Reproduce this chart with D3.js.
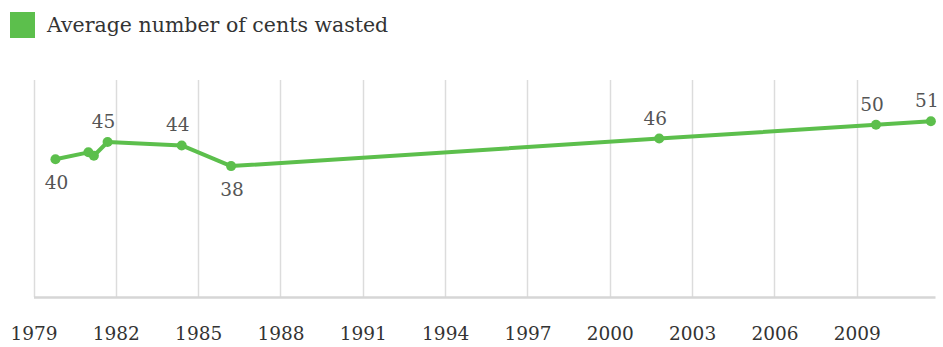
<!DOCTYPE html>
<html>
<head>
<meta charset="utf-8">
<script src="https://cdn.jsdelivr.net/npm/d3@7"></script>
<style>
  body { margin: 0; background: #fff; }
  svg { display: block; }
</style>
</head>
<body>
<div id="chart"></div>
<script>
// survey dates (fractional years) and average cents wasted
const years = [1979.8, 1981.0, 1981.2, 1981.7, 1984.4, 1986.2, 2001.8, 2009.7, 2011.7];
const cents = [40, 42, 41, 45, 44, 38, 46, 50, 51];
const labelPos = ['below', null, null, 'above', 'above', 'below', 'above', 'above', 'above'];
const tickYears = [1979, 1982, 1985, 1988, 1991, 1994, 1997, 2000, 2003, 2006, 2009];
const seriesName = 'Average number of cents wasted';

const width = 943, height = 347;
const green = '#5cbf4c';
const font = 'DejaVu Serif';

let svg = d3.select('#chart').append('svg')
  .attr('width', width)
  .attr('height', height);

let x = d3.scaleLinear().domain([1979, 2011.85]).range([33.5, 935]);
let y = d3.scaleLinear().domain([0, 63]).range([297, 80]);

// vertical grid lines
svg.selectAll('.grid')
  .data(tickYears).enter()
  .append('line')
  .attr('x1', d => Math.round(x(d)) + 0.5)
  .attr('x2', d => Math.round(x(d)) + 0.5)
  .attr('y1', y.range()[1])
  .attr('y2', y(0))
  .attr('stroke', '#dcdcdc')
  .attr('stroke-width', 1.5);

// bottom axis
let xAxis = svg.append('g')
  .attr('transform', 'translate(0,' + y(0) + ')')
  .call(d3.axisBottom(x).tickValues(tickYears).tickFormat(d3.format('d')).tickSize(0).tickPadding(30));
xAxis.select('.domain').attr('stroke', '#d6d6d6').attr('stroke-width', 2.5);
xAxis.selectAll('text')
  .attr('font-family', font)
  .attr('font-size', 18.5)
  .attr('fill', '#333');

// line + points
let line = d3.line()
  .x((d, i) => x(years[i]))
  .y(d => y(d));

svg.append('path')
  .datum(cents)
  .attr('fill', 'none')
  .attr('stroke', green)
  .attr('stroke-width', 4)
  .attr('stroke-linejoin', 'round')
  .attr('d', line);

svg.selectAll('.dot')
  .data(cents).enter()
  .append('circle')
  .attr('cx', (d, i) => x(years[i]))
  .attr('cy', d => y(d))
  .attr('r', 5)
  .attr('fill', green);

svg.selectAll('.lbl')
  .data(cents.map((v, i) => ({ v: v, i: i })).filter(d => labelPos[d.i]))
  .enter()
  .append('text')
  .attr('x', d => x(years[d.i]) + (labelPos[d.i] === 'above' ? -4 : 1))
  .attr('y', d => y(d.v) + (labelPos[d.i] === 'above' ? -14 : 30))
  .attr('text-anchor', 'middle')
  .attr('font-family', font)
  .attr('font-size', 18.5)
  .attr('fill', '#555')
  .text(d => d.v);

// legend
svg.append('rect')
  .attr('x', 10)
  .attr('y', 12)
  .attr('width', 25)
  .attr('height', 26)
  .attr('fill', green);

svg.append('text')
  .attr('x', 47)
  .attr('y', 32)
  .attr('font-family', font)
  .attr('font-size', 20.5)
  .attr('fill', '#333')
  .text(seriesName);
</script>
</body>
</html>
